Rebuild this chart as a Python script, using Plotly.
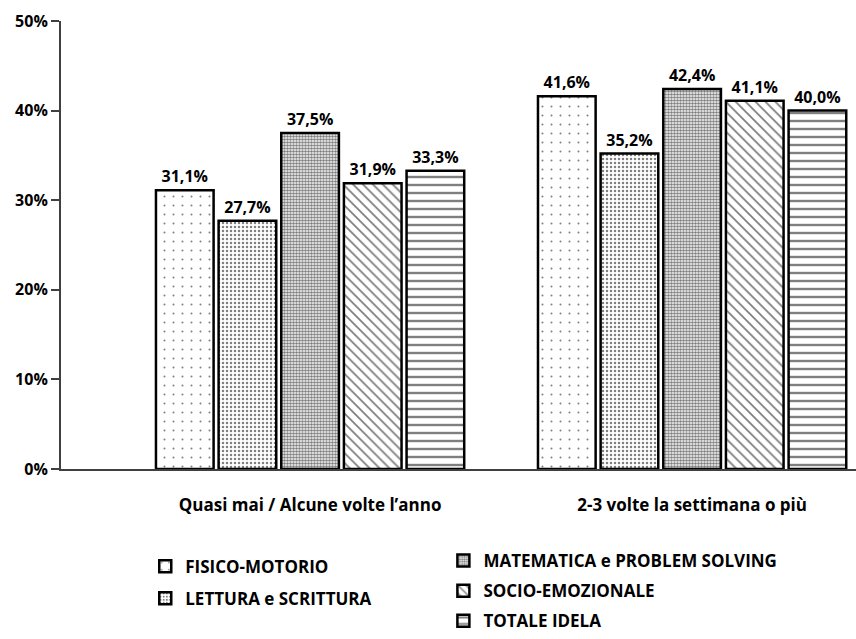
import plotly.graph_objects as go

categories = ["Quasi mai / Alcune volte l’anno", "2-3 volte la settimana o più"]
series_names = ["FISICO-MOTORIO", "LETTURA e SCRITTURA", "MATEMATICA e PROBLEM SOLVING",
                "SOCIO-EMOZIONALE", "TOTALE IDELA"]
fisico = [31.1, 41.6]
lettura = [27.7, 35.2]
matematica = [37.5, 42.4]
socio = [31.9, 41.1]
totale = [33.3, 40.0]
y_ticks = [0, 10, 20, 30, 40, 50]
y_tick_labels = ["0%", "10%", "20%", "30%", "40%", "50%"]

series_values = [fisico, lettura, matematica, socio, totale]
patterns = [
    dict(shape=".", size=9, solidity=0.04),
    dict(shape=".", size=4, solidity=0.3),
    dict(shape=".", size=3, solidity=0.6),
    dict(shape="\\", size=7, solidity=0.25),
    dict(shape="-", size=8, solidity=0.3),
]
legends = ["legend", "legend", "legend2", "legend2", "legend2"]

FONT = "Open Sans"
fig = go.Figure()
for name, vals, pat, lg in zip(series_names, series_values, patterns, legends):
    fig.add_trace(go.Bar(
        x=categories, y=vals, name=name,
        marker=dict(color="white", line=dict(color="black", width=2.5),
                    pattern=dict(fgcolor="black", bgcolor="white", fillmode="overlay", **pat)),
        texttemplate="%{y:.1f}%", textposition="outside", cliponaxis=False,
        textfont=dict(family=FONT, size=16, color="black", weight="bold"),
        legend=lg, legendgroup=name,
    ))

fig.update_layout(
    width=856, height=639,
    margin=dict(l=61, r=0, t=21, b=169),
    paper_bgcolor="white", plot_bgcolor="white",
    separators=",.",
    barmode="group", bargap=0.18, bargroupgap=0.08,
    font=dict(family=FONT, size=14, color="black"),
    xaxis=dict(range=[-0.652, 1.429], showline=True, linecolor="#404040", linewidth=2,
               ticks="", showgrid=False, ticklabelstandoff=20, automargin=False,
               tickfont=dict(family=FONT, size=17, color="black", weight="bold")),
    yaxis=dict(range=[0, 50], tickvals=y_ticks, ticktext=y_tick_labels, automargin=False,
               showline=True, linecolor="#404040", linewidth=2, ticks="outside",
               ticklen=8, tickwidth=2, tickcolor="#404040", showgrid=False, zeroline=False,
               tickfont=dict(family=FONT, size=16, color="black", weight="bold")),
    legend=dict(x=0.106, y=-0.175, xanchor="left", yanchor="top", orientation="v",
                tracegroupgap=7, bgcolor="rgba(0,0,0,0)",
                font=dict(family=FONT, size=17, color="black", weight="bold")),
    legend2=dict(x=0.481, y=-0.164, xanchor="left", yanchor="top", orientation="v",
                 tracegroupgap=5, bgcolor="rgba(0,0,0,0)",
                 font=dict(family=FONT, size=17, color="black", weight="bold")),
    showlegend=True,
)

fig.write_html("out.html")
